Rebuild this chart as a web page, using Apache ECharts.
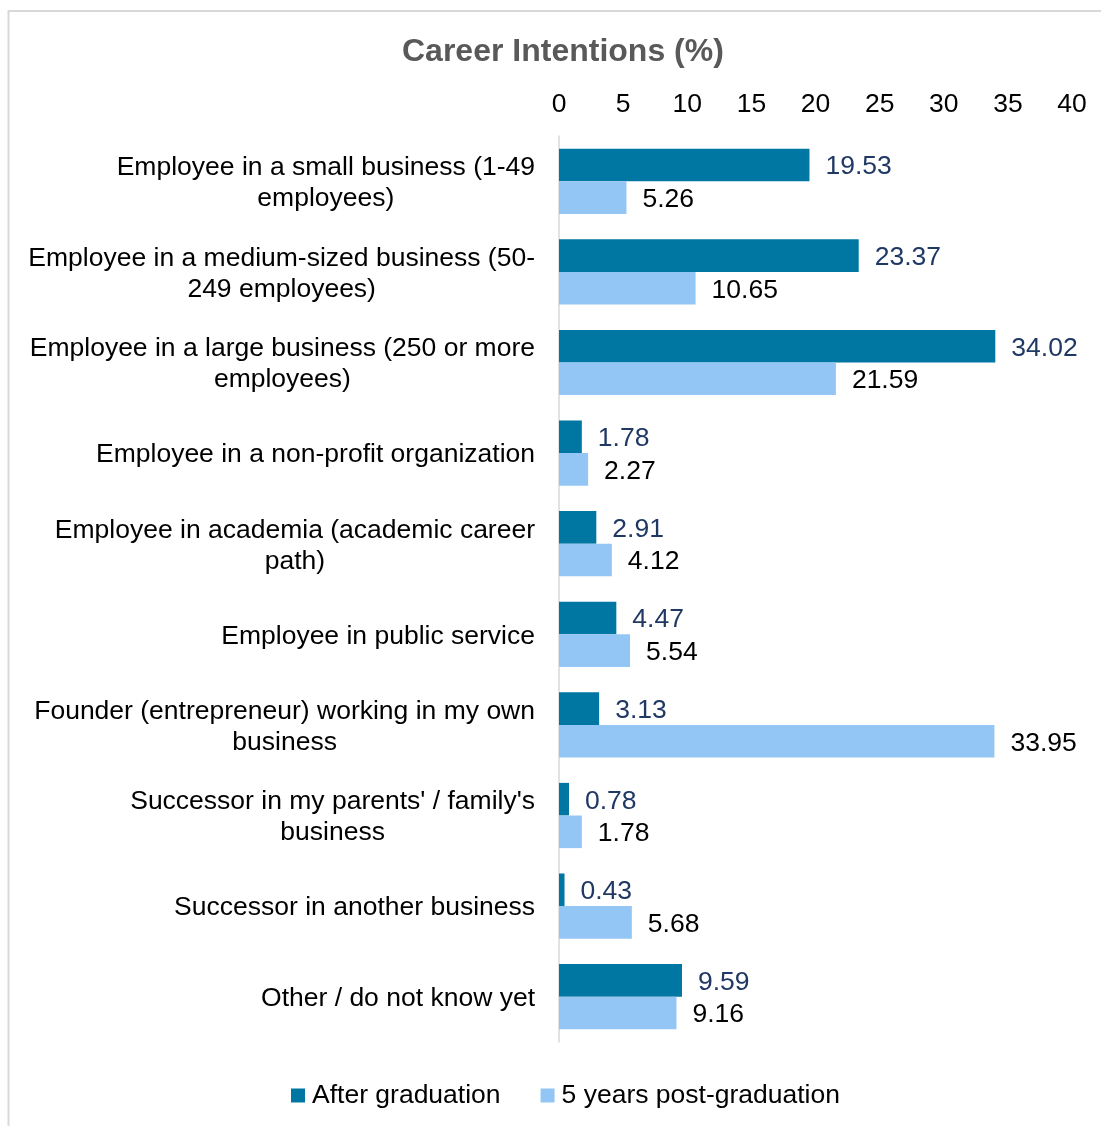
<!DOCTYPE html>
<html>
<head>
<meta charset="utf-8">
<title>Career Intentions (%)</title>
<script src="https://cdn.jsdelivr.net/npm/echarts@6/dist/echarts.min.js"></script>
<style>
  html, body { margin: 0; padding: 0; background: #ffffff; }
  #chart { width: 1101px; height: 1126px; }
</style>
</head>
<body>
<div id="chart"></div>
<script>
// Career options (line breaks where the label wraps)
const categories = [
  "Employee in a small business (1-49\nemployees)",
  "Employee in a medium-sized business (50-\n249 employees)",
  "Employee in a large business (250 or more\nemployees)",
  "Employee in a non-profit organization",
  "Employee in academia (academic career\npath)",
  "Employee in public service",
  "Founder (entrepreneur) working in my own\nbusiness",
  "Successor in my parents' / family's\nbusiness",
  "Successor in another business",
  "Other / do not know yet"
];

// Share of respondents, in percent
const afterGraduation = [19.53, 23.37, 34.02, 1.78, 2.91, 4.47, 3.13, 0.78, 0.43, 9.59];
const fiveYearsPost = [5.26, 10.65, 21.59, 2.27, 4.12, 5.54, 33.95, 1.78, 5.68, 9.16];

const seriesNames = ["After graduation", "5 years post-graduation"];
const axisTicks = { min: 0, max: 40, interval: 5 };

const FONT = "'Liberation Sans', Arial, sans-serif";
const FS = 26.5;

const chart = echarts.init(document.getElementById('chart'), null, { renderer: 'canvas' });

chart.setOption({
  backgroundColor: '#ffffff',
  animation: false,
  textStyle: { fontFamily: FONT },
  graphic: [{
    type: 'rect',
    silent: true,
    shape: { x: 8.5, y: 11, width: 1200, height: 1200 },
    style: { fill: 'none', stroke: '#d9d9d9', lineWidth: 2 }
  }],
  title: {
    text: 'Career Intentions (%)',
    left: 402,
    top: 36,
    padding: 0,
    textStyle: { fontFamily: FONT, fontSize: 32, fontWeight: 'bold', color: '#595959' }
  },
  legend: {
    data: seriesNames,
    left: 291,
    top: 1082,
    padding: 0,
    icon: 'rect',
    itemWidth: 14,
    itemHeight: 14,
    itemGap: 40,
    textStyle: { fontFamily: FONT, fontSize: FS, color: '#000000', padding: [0, 0, 0, 2] }
  },
  grid: { left: 559, right: 29, top: 136, bottom: 84, containLabel: false },
  xAxis: {
    type: 'value',
    position: 'top',
    min: axisTicks.min,
    max: axisTicks.max,
    interval: axisTicks.interval,
    axisLine: { show: false },
    axisTick: { show: false },
    splitLine: { show: false },
    axisLabel: { margin: 18, fontFamily: FONT, fontSize: FS, color: '#000000' }
  },
  yAxis: {
    type: 'category',
    inverse: true,
    data: categories,
    axisLine: { show: true, lineStyle: { color: '#d9d9d9', width: 1.5 } },
    axisTick: { show: false },
    axisLabel: {
      margin: 24,
      align: 'right',
      lineHeight: 31,
      padding: [4, 0, 0, 0],
      formatter: v => '{c|' + v + '}',
      rich: {
        c: { align: 'center', fontFamily: FONT, fontSize: FS, lineHeight: 31, color: '#000000' }
      }
    }
  },
  series: [
    {
      name: seriesNames[0],
      type: 'bar',
      data: afterGraduation,
      barGap: '0%',
      barCategoryGap: '28%',
      itemStyle: { color: '#0077a2' },
      label: {
        show: true,
        position: 'right',
        distance: 16,
        offset: [0, 2],
        fontFamily: FONT,
        fontSize: FS,
        color: '#203864'
      }
    },
    {
      name: seriesNames[1],
      type: 'bar',
      data: fiveYearsPost,
      barGap: '0%',
      barCategoryGap: '28%',
      itemStyle: { color: '#93c6f5' },
      label: {
        show: true,
        position: 'right',
        distance: 16,
        offset: [0, 2],
        fontFamily: FONT,
        fontSize: FS,
        color: '#000000'
      }
    }
  ]
});
</script>
</body>
</html>
